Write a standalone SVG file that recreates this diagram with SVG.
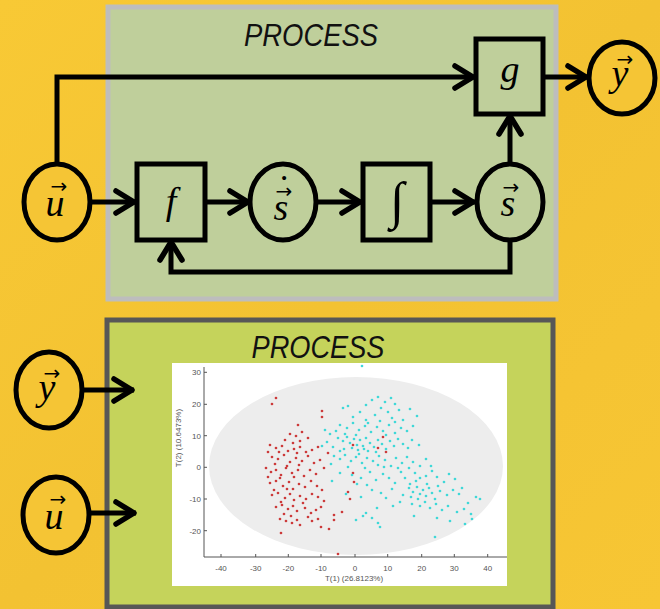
<svg xmlns="http://www.w3.org/2000/svg" width="660" height="609" viewBox="0 0 660 609">
  <defs>
    <linearGradient id="bg" x1="0" y1="0" x2="1" y2="1">
      <stop offset="0" stop-color="#f8c935"/>
      <stop offset="0.5" stop-color="#f3c232"/>
      <stop offset="1" stop-color="#f7c634"/>
    </linearGradient>
    <marker id="chev" markerUnits="userSpaceOnUse" viewBox="-24 -14 26 28" refX="0" refY="0" markerWidth="26" markerHeight="28" orient="auto" overflow="visible">
      <path d="M-20,-11 L-2,0 L-20,11" fill="none" stroke="#000" stroke-width="5.5" stroke-linecap="round" stroke-linejoin="round"/>
    </marker>
    <style>
      .wire { fill: none; stroke: #000; stroke-width: 5; marker-end: url(#chev); }
      .box { fill: none; stroke: #000; stroke-width: 5; }
      .oval { stroke: #000; stroke-width: 5; }
      .math { font-family: "Liberation Serif", "DejaVu Serif", serif; font-style: italic; font-size: 38px; text-anchor: middle; fill: #000; }
      .vec { font-family: "DejaVu Sans", sans-serif; font-size: 20px; text-anchor: middle; fill: #000; }
      .title { font-family: "Liberation Sans", Arial, sans-serif; font-style: italic; font-size: 32px; text-anchor: middle; fill: #111; }
      .tick { font-family: "Liberation Sans", Arial, sans-serif; font-size: 8px; fill: #555; }
      .red { fill: none; stroke: #cc3a3a; stroke-width: 2.7; stroke-linecap: round; }
      .cyan { fill: none; stroke: #3fd8d8; stroke-width: 2.7; stroke-linecap: round; }
    </style>
  </defs>

  <!-- background -->
  <rect width="660" height="609" fill="url(#bg)"/>

  <!-- upper process panel -->
  <rect id="process-top" x="108" y="7" width="448" height="292" fill="#bfcf9b" stroke="#bdbdbd" stroke-width="5"/>
  <text class="title" x="311" y="46" textLength="134" lengthAdjust="spacingAndGlyphs">PROCESS</text>

  <!-- lower process panel -->
  <rect id="process-bottom" x="107" y="320" width="446" height="287" fill="#c5d35b" stroke="#575757" stroke-width="5"/>
  <text class="title" x="318" y="358" textLength="133" lengthAdjust="spacingAndGlyphs">PROCESS</text>

  <!-- score plot -->
  <g id="score-plot">
    <rect x="172" y="363" width="335" height="223" fill="#ffffff"/>
    <ellipse cx="356" cy="466" rx="147" ry="89" fill="#ededed"/>
    <path d="M204,367 V557 H507" fill="none" stroke="#555" stroke-width="1"/>
    <path d="M204,372.3 h3 M204,404.3 h3 M204,435.7 h3 M204,467.3 h3 M204,499 h3 M204,530.7 h3 M221,557 v-3 M255.7,557 v-3 M288.3,557 v-3 M321,557 v-3 M355,557 v-3 M387.7,557 v-3 M421.7,557 v-3 M454.3,557 v-3 M487.7,557 v-3" stroke="#555" stroke-width="1"/>
    <g class="tick" text-anchor="end">
      <text x="201" y="375">30</text>
      <text x="201" y="407">20</text>
      <text x="201" y="438.5">10</text>
      <text x="201" y="470">0</text>
      <text x="201" y="502">-10</text>
      <text x="201" y="533.5">-20</text>
    </g>
    <g class="tick" text-anchor="middle">
      <text x="221" y="571">-40</text>
      <text x="255.7" y="571">-30</text>
      <text x="288.3" y="571">-20</text>
      <text x="321" y="571">-10</text>
      <text x="355" y="571">0</text>
      <text x="387.7" y="571">10</text>
      <text x="421.7" y="571">20</text>
      <text x="454.3" y="571">30</text>
      <text x="487.7" y="571">40</text>
      <text x="354" y="581">T(1) (26.8123%)</text>
      <text transform="translate(181,438) rotate(-90)">T(2) (10.6473%)</text>
    </g>
    <!-- class 1 scores -->
    <path class="red" d="M272,404h0M276,398h0M298,425h0M322,411h0M322,417h0M281,533h0M338,554h0M321,527h0M329,529h0M334,515h0M334,520h0M342,512h0M348,492h0M350,499h0M353,473h0M354,482h0M328,453h0M383,437h0M386,452h0M378,448h0M353,445h0
M290,434h0M296,436h0M302,432h0M285,440h0M308,438h0M300,441h0M293,443h0
M270,445h0M276,448h0M282,446h0M288,451h0M294,449h0M300,447h0M306,452h0M312,450h0M279,452h0M297,453h0M268,452h0M318,447h0
M272,457h0M278,459h0M284,455h0M290,462h0M296,458h0M302,461h0M308,456h0M314,463h0M320,460h0M275,464h0M287,466h0M299,465h0
M266,468h0M271,472h0M276,470h0M281,475h0M286,468h0M292,473h0M298,470h0M304,476h0M310,470h0M316,474h0M324,468h0M268,477h0M280,478h0M294,477h0
M270,483h0M276,481h0M283,486h0M289,482h0M293,489h0M299,484h0M305,487h0M311,481h0M317,486h0M322,490h0M287,489h0M274,490h0
M272,495h0M278,493h0M285,498h0M290,494h0M294,500h0M300,496h0M306,499h0M312,494h0M318,497h0M324,501h0M281,502h0M303,503h0
M276,507h0M282,505h0M288,509h0M293,506h0M297,511h0M305,508h0M311,513h0M316,510h0M321,507h0M284,514h0M291,516h0M308,517h0
M280,519h0M286,521h0M292,523h0M297,520h0M312,521h0M318,519h0M300,525h0"/>
    <!-- class 2 scores -->
    <path class="cyan" d="M362,366h0
M372,400h0M378,397h0M385,402h0M391,398h0M395,404h0M366,405h0M381,408h0M388,412h0M399,410h0M375,415h0M360,412h0M353,417h0M392,418h0M403,420h0M410,409h0M343,408h0M348,406h0M417,416h0M366,420h0M380,421h0
M340,425h0M347,428h0M353,423h0M359,430h0M365,426h0M371,432h0M377,427h0M383,431h0M389,425h0M395,433h0M401,428h0M407,431h0M336,431h0M345,434h0M356,435h0M368,423h0M386,435h0M413,426h0M325,430h0M330,434h0M395,422h0
M338,438h0M343,441h0M347,437h0M350,443h0M354,439h0M357,445h0M360,440h0M363,446h0M366,438h0M370,443h0M374,447h0M378,440h0M382,444h0M386,449h0M390,441h0M394,446h0M398,439h0M403,444h0M408,448h0M327,442h0M333,447h0M344,449h0M352,448h0M358,450h0M364,449h0M368,451h0M376,452h0M412,440h0M419,445h0M322,446h0M340,451h0
M334,456h0M340,459h0M345,455h0M351,461h0M356,457h0M362,463h0M367,458h0M373,461h0M379,456h0M385,460h0M391,466h0M396,458h0M402,463h0M407,457h0M413,462h0M420,466h0M426,459h0M331,464h0M348,467h0M365,468h0M384,467h0M398,468h0M409,468h0M431,466h0M359,454h0M378,465h0
M340,473h0M352,475h0M361,478h0M370,472h0M376,480h0M383,474h0M389,478h0M395,483h0M401,472h0M405,478h0M410,484h0M415,473h0M420,478h0M426,476h0M432,471h0M437,477h0M444,482h0M449,474h0M332,481h0M357,484h0M367,485h0M416,481h0M427,484h0M438,486h0M455,479h0
M372,490h0M381,493h0M392,489h0M403,495h0M409,488h0M413,492h0M417,487h0M420,494h0M423,490h0M426,496h0M429,488h0M432,493h0M435,499h0M411,497h0M418,499h0M440,491h0M447,495h0M453,490h0M459,494h0M462,488h0M476,497h0M480,499h0M346,494h0M361,497h0M386,498h0
M400,502h0M412,504h0M420,506h0M425,502h0M430,508h0M436,504h0M442,510h0M448,506h0M457,512h0M464,509h0M471,514h0M468,503h0M377,508h0M393,506h0M366,513h0
M372,518h0M378,523h0M356,520h0M363,516h0M414,516h0M437,518h0M450,521h0M472,519h0M465,524h0M435,537h0M380,527h0"/>
  </g>

  <!-- connectors -->
  <g id="connectors">
    <path class="wire" d="M90,202 H136"/>
    <path class="wire" d="M205,202 H250"/>
    <path class="wire" d="M316,202 H362"/>
    <path class="wire" d="M430,202 H475"/>
    <path class="wire" d="M57,164 V77 H475"/>
    <path class="wire" d="M510,164 V114"/>
    <path class="wire" d="M543,77 H588"/>
    <path class="wire" d="M510,240 V272 H171 V240"/>
    <path class="wire" d="M82,390 H134"/>
    <path class="wire" d="M89,513 H136"/>
  </g>

  <!-- input u -->
  <g id="node-u">
    <ellipse class="oval" cx="57" cy="202" rx="33" ry="38" fill="#f5c535"/>
    <text class="math" x="55" y="216">u</text>
    <text class="vec" x="59" y="193">→</text>
  </g>

  <!-- f block -->
  <g id="node-f">
    <rect class="box" x="137" y="164" width="68" height="76"/>
    <text class="math" x="171" y="214">f</text>
  </g>

  <!-- state derivative -->
  <g id="node-sdot">
    <ellipse class="oval" cx="283" cy="202" rx="33" ry="38" fill="none"/>
    <text class="math" x="281" y="220">s</text>
    <text class="vec" x="284" y="198">→</text>
    <text class="math" x="284" y="201" style="font-style:normal">˙</text>
  </g>

  <!-- integrator -->
  <g id="node-int">
    <rect class="box" x="363" y="164" width="67" height="76"/>
    <text class="math" x="397" y="218" style="font-size:52px">∫</text>
  </g>

  <!-- state -->
  <g id="node-s">
    <ellipse class="oval" cx="510" cy="202" rx="33" ry="38" fill="none"/>
    <text class="math" x="508" y="216">s</text>
    <text class="vec" x="511" y="194">→</text>
  </g>

  <!-- g block -->
  <g id="node-g">
    <rect class="box" x="476" y="39" width="67" height="75"/>
    <text class="math" x="510" y="82">g</text>
  </g>

  <!-- output y -->
  <g id="node-y">
    <ellipse class="oval" cx="622" cy="78" rx="33" ry="36" fill="#f5c535"/>
    <text class="math" x="620" y="86">y</text>
    <text class="vec" x="625" y="66">→</text>
  </g>

  <!-- inputs of the data-driven model -->
  <g id="node-y2">
    <ellipse class="oval" cx="49" cy="390" rx="33" ry="38" fill="#f5c535"/>
    <text class="math" x="47" y="400">y</text>
    <text class="vec" x="52" y="380">→</text>
  </g>
  <g id="node-u2">
    <ellipse class="oval" cx="56" cy="515" rx="33" ry="38" fill="#f5c535"/>
    <text class="math" x="54" y="529">u</text>
    <text class="vec" x="58" y="506">→</text>
  </g>
</svg>
